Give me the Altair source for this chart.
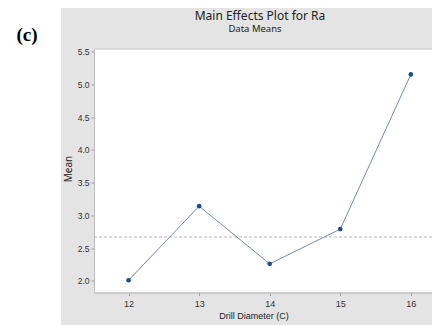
import altair as alt
import pandas as pd

diameters = [12, 13, 14, 15, 16]
means = [2.01, 3.14, 2.26, 2.79, 5.15]
ref_mean = 2.67
y_ticks = [2.0, 2.5, 3.0, 3.5, 4.0, 4.5, 5.0, 5.5]
x_ticks = [12, 13, 14, 15, 16]

df = pd.DataFrame({"d": diameters, "m": means})
one = pd.DataFrame({"a": [0]})

W, H = 338, 244

xs = alt.Scale(domain=[11.51, 16.30], nice=False, zero=False)
ys = alt.Scale(domain=[1.823, 5.546], nice=False, zero=False)

x_axis = alt.Axis(values=x_ticks, format="d", title=None, grid=False, domainColor="#bdbdbd",
                  tickColor="#9a9a9a", tickSize=3, labelFontSize=9, labelColor="#333333",
                  labelFont="Liberation Sans", labelPadding=4, labelOverlap=False, labelFlush=False)
y_axis = alt.Axis(values=y_ticks, format=".1f", title=None, grid=False, domainColor="#bdbdbd",
                  tickColor="#9a9a9a", tickSize=3, labelFontSize=8.5, labelColor="#333333",
                  labelFont="Liberation Sans", labelPadding=2, labelOverlap=False, labelFlush=False)

left_white = alt.Chart(one).mark_rect(fill="white", stroke=None).encode(
    x=alt.value(-86), x2=alt.value(-33), y=alt.value(-41), y2=alt.value(H + 40))

line = alt.Chart(df).mark_line(color="#6f8fb3", strokeWidth=1).encode(
    x=alt.X("d:Q", scale=xs, axis=x_axis),
    y=alt.Y("m:Q", scale=ys, axis=y_axis))

pts = alt.Chart(df).mark_circle(color="#1d4e8a", size=22, opacity=1).encode(
    x=alt.X("d:Q", scale=xs, axis=x_axis), y=alt.Y("m:Q", scale=ys, axis=y_axis))

ref = alt.Chart(pd.DataFrame({"r": [ref_mean]})).mark_rule(
    color="#b5b5b5", strokeDash=[3, 2], strokeWidth=1).encode(
    y=alt.Y("r:Q", scale=ys, axis=y_axis))

def label(txt, x, y, size, font="Noto Sans", weight="normal", color="#222222", angle=0):
    return alt.Chart(one).mark_text(text=txt, fontSize=size, font=font, fontWeight=weight,
                                    color=color, angle=angle, align="center",
                                    baseline="middle").encode(
        x=alt.value(x), y=alt.value(y))

title = label("Main Effects Plot for Ra", 260 - 94, 15.5 - 48.5, 12)
sub = label("Data Means", 255 - 94, 29 - 48.5, 9.5)
ytitle = label("Mean", 69 - 94, 169 - 48.5, 10, angle=270)
xtitle = label("Drill Diameter (C)", 254 - 94, 316 - 48.5, 9, font="Liberation Sans")
tag = label("(c)", 27 - 94, 35 - 48.5, 19, font="Liberation Serif", weight="bold", color="#000000")

chart = alt.layer(left_white, ref, line, pts, title, sub, ytitle, xtitle, tag).properties(
    width=W, height=H,
    padding={"left": 86, "top": 40.5, "right": 0, "bottom": 32},
    autosize=alt.AutoSizeParams(type="none"),
    background="#e4e4e4",
).configure_view(fill="white", stroke="#c8c8c8")

chart.save("out.html", embed_options={"renderer": "svg", "actions": False})
